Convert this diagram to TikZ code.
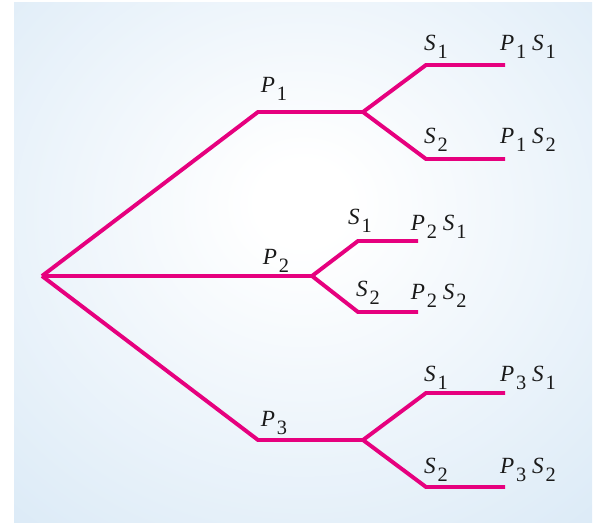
\documentclass[tikz,border=0pt]{standalone}
\usepackage{fontspec}
\usepackage{xcolor}
\setmainfont{Liberation Serif}
\definecolor{tree-pink}{HTML}{E6007E}
\definecolor{sky-blue}{HTML}{D4E6F5}
\definecolor{jet}{HTML}{1A1A1A}
\pgfdeclareradialshading{skyglow}{\pgfpoint{0bp}{6bp}}{%
  color(0bp)=(white); color(4bp)=(white); color(46bp)=(sky-blue); color(100bp)=(sky-blue)}
% letter with a low index, as the tree labels are set
\newcommand{\lbl}[2]{{\itshape #1}\kern0.08em\raisebox{-0.8ex}{\fontsize{14.5}{16}\selectfont #2}}

\begin{document}
\begin{tikzpicture}[every node/.style={font=\fontsize{16.5}{19}\selectfont, color=jet},
    branch/.style={line width=2.8pt, color=tree-pink}]
  \useasboundingbox (0,0) rectangle (14.825,13.075);
  \shade[shading=skyglow] (0.35,0) rectangle (14.8,13.0);
  % points of the tree
  \coordinate (root) at (1.05,6.175);
  \coordinate (p1k) at (6.45,10.275);   \coordinate (p1) at (9.075,10.275);
  \coordinate (p2) at (7.8,6.175);
  \coordinate (p3k) at (6.45,2.075);    \coordinate (p3) at (9.075,2.075);
  \coordinate (p1s1k) at (10.65,11.45); \coordinate (p1s1) at (12.625,11.45);
  \coordinate (p1s2k) at (10.65,9.1);   \coordinate (p1s2) at (12.625,9.1);
  \coordinate (p2s1k) at (8.95,7.05);   \coordinate (p2s1) at (10.45,7.05);
  \coordinate (p2s2k) at (8.95,5.275);  \coordinate (p2s2) at (10.45,5.275);
  \coordinate (p3s1k) at (10.65,3.25);  \coordinate (p3s1) at (12.625,3.25);
  \coordinate (p3s2k) at (10.65,0.9);   \coordinate (p3s2) at (12.625,0.9);
  % branches
  \draw[branch] (root) -- (p1k) -- (p1);
  \draw[branch] (root) -- (p2);
  \draw[branch] (root) -- (p3k) -- (p3);
  \draw[branch] (p1) -- (p1s1k) -- (p1s1);
  \draw[branch] (p1) -- (p1s2k) -- (p1s2);
  \draw[branch] (p2) -- (p2s1k) -- (p2s1);
  \draw[branch] (p2) -- (p2s2k) -- (p2s2);
  \draw[branch] (p3) -- (p3s1k) -- (p3s1);
  \draw[branch] (p3) -- (p3s2k) -- (p3s2);
  % labels
  \node (lp1) at (6.85,10.85) {\lbl{P}{1}};
  \node (lp2) at (6.9,6.55) {\lbl{P}{2}};
  \node (lp3) at (6.85,2.5) {\lbl{P}{3}};
  \node (l1s1) at (10.9,11.9) {\lbl{S}{1}};
  \node (l1s2) at (10.9,9.575) {\lbl{S}{2}};
  \node (l2s1) at (9.0,7.55) {\lbl{S}{1}};
  \node (l2s2) at (9.2,5.75) {\lbl{S}{2}};
  \node (l3s1) at (10.9,3.625) {\lbl{S}{1}};
  \node (l3s2) at (10.9,1.325) {\lbl{S}{2}};
  \node (o1s1) at (13.2,11.9) {\lbl{P}{1}\hspace{0.25em}\lbl{S}{1}};
  \node (o1s2) at (13.2,9.575) {\lbl{P}{1}\hspace{0.25em}\lbl{S}{2}};
  \node (o2s1) at (10.97,7.4) {\lbl{P}{2}\hspace{0.25em}\lbl{S}{1}};
  \node (o2s2) at (10.97,5.675) {\lbl{P}{2}\hspace{0.25em}\lbl{S}{2}};
  \node (o3s1) at (13.2,3.625) {\lbl{P}{3}\hspace{0.25em}\lbl{S}{1}};
  \node (o3s2) at (13.2,1.325) {\lbl{P}{3}\hspace{0.25em}\lbl{S}{2}};
\end{tikzpicture}
\end{document}
